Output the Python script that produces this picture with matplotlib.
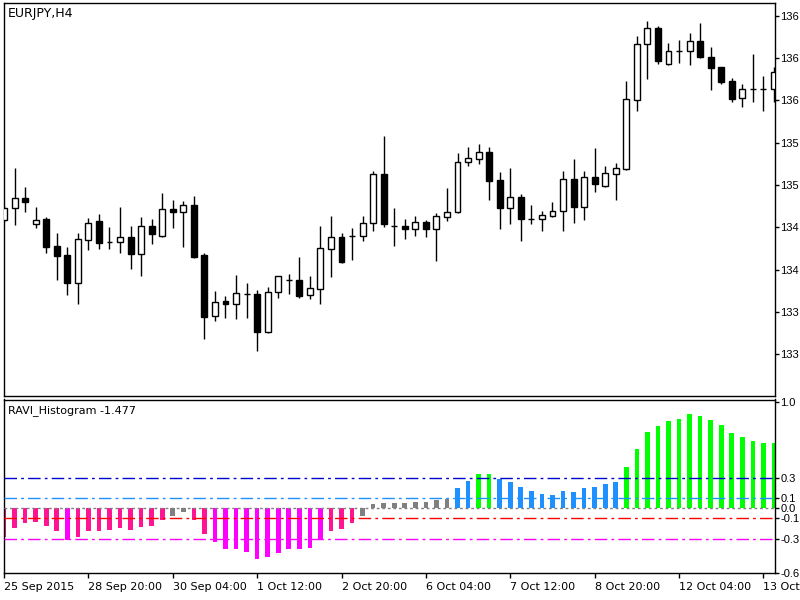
import matplotlib
matplotlib.use("Agg")
import matplotlib.pyplot as plt
import numpy as np

# EURJPY H4 bars, 25 Sep 2015 12:00 onwards
opens = [134.727, 134.851, 134.958, 134.684, 134.734, 134.450, 134.354, 134.053, 134.514, 134.719,
         134.496, 134.489, 134.549, 134.361, 134.663, 134.556, 134.844, 134.809, 134.887, 134.354,
         133.704, 133.864, 133.829, 133.939, 133.939, 133.531, 133.963, 134.088, 134.088, 133.928,
         133.992, 134.415, 134.549, 134.556, 134.556, 134.698, 135.214, 134.666, 134.663, 134.628,
         134.702, 134.631, 134.762, 134.809, 135.341, 135.373, 135.448, 135.153, 134.851, 134.969,
         134.734, 134.737, 134.770, 134.823, 135.164, 134.862, 135.182, 135.092, 135.217, 135.270,
         136.005, 136.598, 136.769, 136.385, 136.527, 136.527, 136.637, 136.460, 136.353, 136.207,
         136.023, 136.119, 136.119, 136.119]
highs = [134.876, 135.277, 135.082, 134.868, 134.762, 134.592, 134.436, 134.592, 134.745, 134.791,
         134.649, 134.862, 134.663, 134.762, 134.734, 135.018, 134.940, 134.929, 134.986, 134.379,
         133.971, 133.921, 134.141, 134.059, 133.981, 134.016, 134.130, 134.148, 134.330, 134.130,
         134.663, 134.773, 134.592, 134.639, 134.773, 135.252, 135.622, 134.858, 134.734, 134.773,
         134.727, 134.798, 135.071, 135.437, 135.508, 135.533, 135.508, 135.241, 135.277, 135.001,
         134.887, 134.826, 134.915, 135.252, 135.377, 135.252, 135.491, 135.305, 135.331, 136.211,
         136.687, 136.850, 136.796, 136.615, 136.644, 136.715, 136.828, 136.573, 136.360, 136.242,
         136.176, 136.492, 136.261, 136.360]
lows = [134.706, 134.674, 134.809, 134.638, 134.372, 134.088, 133.928, 133.829, 134.407, 134.415,
        134.415, 134.372, 134.205, 134.130, 134.468, 134.543, 134.638, 134.442, 134.319, 133.459,
        133.654, 133.686, 133.672, 133.686, 133.335, 133.520, 133.893, 133.939, 133.893, 133.882,
        133.829, 134.123, 134.272, 134.301, 134.503, 134.610, 134.655, 134.453, 134.521, 134.556,
        134.543, 134.290, 134.716, 134.800, 135.305, 135.320, 134.940, 134.628, 134.684, 134.503,
        134.684, 134.613, 134.762, 134.613, 134.698, 134.727, 135.028, 135.075, 134.940, 135.259,
        135.891, 136.229, 136.388, 136.380, 136.396, 136.378, 136.449, 136.111, 136.172, 135.987,
        135.927, 135.987, 135.891, 135.987]
closes = [134.858, 134.958, 134.922, 134.727, 134.442, 134.343, 134.053, 134.521, 134.692, 134.485,
          134.496, 134.549, 134.361, 134.663, 134.575, 134.844, 134.809, 134.887, 134.336, 133.697,
          133.857, 133.829, 133.946, 133.939, 133.531, 133.957, 134.130, 134.088, 133.921, 134.000,
          134.425, 134.549, 134.283, 134.556, 134.698, 135.214, 134.681, 134.666, 134.628, 134.702,
          134.628, 134.773, 134.815, 135.348, 135.390, 135.448, 135.145, 134.851, 134.969, 134.737,
          134.734, 134.780, 134.826, 135.164, 134.862, 135.182, 135.107, 135.224, 135.277, 136.012,
          136.598, 136.769, 136.420, 136.530, 136.527, 136.637, 136.460, 136.343, 136.200, 136.012,
          136.119, 136.119, 136.119, 136.306]

ravi = [-0.28, -0.20, -0.15, -0.14, -0.175, -0.23, -0.31, -0.28, -0.23, -0.23,
        -0.22, -0.20, -0.22, -0.19, -0.175, -0.12, -0.08, -0.04, -0.115, -0.255,
        -0.33, -0.40, -0.405, -0.43, -0.50, -0.48, -0.445, -0.405, -0.405, -0.395,
        -0.31, -0.23, -0.205, -0.15, -0.08, 0.04, 0.05, 0.05, 0.05, 0.065,
        0.065, 0.08, 0.095, 0.20, 0.27, 0.34, 0.34, 0.29, 0.26, 0.21,
        0.17, 0.14, 0.13, 0.17, 0.16, 0.20, 0.21, 0.24, 0.26, 0.405,
        0.585, 0.76, 0.815, 0.865, 0.885, 0.93, 0.915, 0.875, 0.825, 0.75,
        0.71, 0.67, 0.645, 0.645]

time_ticks = [0, 8, 16, 24, 32, 40, 48, 56, 64, 72]
time_labels = ["25 Sep 2015", "28 Sep 20:00", "30 Sep 04:00", "1 Oct 12:00", "2 Oct 20:00",
               "6 Oct 04:00", "7 Oct 12:00", "8 Oct 20:00", "12 Oct 04:00", "13 Oct"]
# right-hand labels are cut by the window edge in the original, only the visible part is kept
price_ticks = [133.30, 133.75, 134.20, 134.65, 135.10, 135.55, 136.00, 136.45, 136.90]
price_labels = ["133", "133", "134", "134", "135", "135", "136", "136", "136"]
ravi_ticks = [1.055, 0.3, 0.1, 0.0, -0.1, -0.3, -0.638]
ravi_labels = ["1.0", "0.3", "0.1", "0.0", "-0.1", "-0.3", "-0.6"]
levels = [0.3, 0.1, 0.0, -0.1, -0.3]
level_colors = ["#0000CD", "#1E90FF", "#808080", "#FF0000", "#FF00FF"]

o, h, l, c = map(np.array, (opens, highs, lows, closes))
x = np.arange(len(o))

fig = plt.figure(figsize=(8, 6), dpi=100)
ax1 = fig.add_axes([4 / 800, 1 - 396 / 600, 771 / 800, 393 / 600])
ax2 = fig.add_axes([4 / 800, 1 - 573 / 600, 771 / 800, 173.5 / 600])

# candles
ax1.vlines(x, l, h, color="black", lw=1, zorder=2)
up = c >= o
ax1.bar(x, np.abs(c - o), bottom=np.minimum(o, c), width=0.56,
        color=np.where(up, "white", "black"), edgecolor="black", linewidth=1, zorder=3)
ax1.set_ylim(132.853, 137.038)
ax1.set_yticks(price_ticks)
ax1.set_yticklabels(price_labels)
ax1.set_xticks([])

# RAVI histogram
v = np.array(ravi)
cols = np.where(v > 0.3, "#00FF00",
       np.where(v > 0.1, "#1E90FF",
       np.where(v >= -0.1, "#808080",
       np.where(v >= -0.3, "#FF1493", "#FF00FF"))))
ax2.bar(x, v, width=0.44, color=cols, zorder=2)
for lev, col in zip(levels, level_colors):
    ls = (0, (2, 2)) if lev == 0 else (0, (9, 3, 2, 3))
    ax2.axhline(lev, color=col, lw=1, ls=ls, zorder=3)
ax2.set_ylim(-0.641, 1.077)
ax2.set_yticks(ravi_ticks)
ax2.set_yticklabels(ravi_labels)
ax2.set_xticks(time_ticks)
ax2.set_xticklabels(time_labels)
plt.setp(ax2.get_xticklabels(), ha="left")

for ax in (ax1, ax2):
    ax.set_xlim(0.0, 73.1)
    ax.yaxis.tick_right()
    ax.tick_params(axis="y", direction="out", length=3, width=1, pad=1, labelsize=8)
    ax.tick_params(axis="x", direction="out", length=3.6, width=1, pad=3, labelsize=8)
    for lab in ax.get_yticklabels():
        lab.set_family("Liberation Sans")
    for s in ax.spines.values():
        s.set_color("black")
        s.set_linewidth(1)

fig.text(8 / 800, 1 - 14 / 600, "EURJPY,H4", va="center", fontsize=9)
fig.text(8 / 800, 1 - 411 / 600, "RAVI_Histogram -1.477", va="center", fontsize=8)

fig.savefig("out.png", dpi=100)
